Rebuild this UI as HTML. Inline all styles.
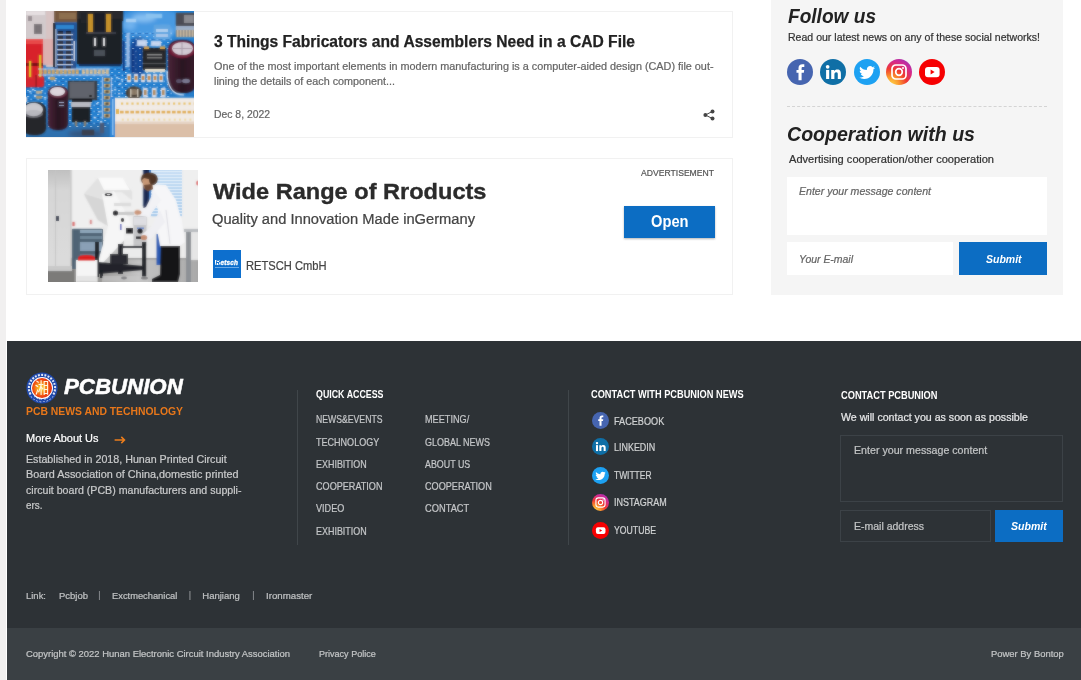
<!DOCTYPE html>
<html lang="en"><head><meta charset="utf-8"><title>PCBUNION - PCB News and Technology</title>
<style>
*{margin:0;padding:0;box-sizing:border-box}
html,body{width:1081px;height:680px;overflow:hidden;background:#fff;font-family:"Liberation Sans",sans-serif}
body{position:relative}
.a{position:absolute}
.t{position:absolute;white-space:nowrap;line-height:1;display:block;transform-origin:0 50%}
#strip{left:0;top:0;width:6px;height:680px;background:#f1f0f0}
.card{background:#fff;border:1px solid #f1f1f1}
#side{left:771px;top:0;width:292px;height:295px;background:#f5f5f5}
.inp{background:#fff}
.btn{background:#0c6dc3}
#foot{left:7px;top:341px;width:1074px;height:287px;background:#2d3236}
#bar{left:7px;top:628px;width:1074px;height:52px;background:#3a4044}
.vl{width:1px;background:#40464a}
.finp{border:1px solid #3c4247;background:#2d3236}

</style></head>
<body>
<div class="a" id="strip"></div>
<!-- article card -->
<div class="a card" style="left:26px;top:11px;width:707px;height:127px"></div>
<svg class="a" id="pcb" style="left:26px;top:11px" width="168" height="126" viewBox="0 0 168 126"><defs><filter id="pb" x="-5%" y="-5%" width="110%" height="110%"><feGaussianBlur stdDeviation="0.8"/></filter><filter id="pb2"><feGaussianBlur stdDeviation="2.2"/></filter><linearGradient id="pbg" x1="0" y1="0" x2="1" y2="1"><stop offset="0" stop-color="#2a6fb8"/><stop offset=".45" stop-color="#2583d4"/><stop offset="1" stop-color="#2a7cc6"/></linearGradient><linearGradient id="capg" x1="0" y1="0" x2="1" y2="0"><stop offset="0" stop-color="#4a2438"/><stop offset=".5" stop-color="#2a1622"/><stop offset="1" stop-color="#3a1c2c"/></linearGradient><pattern id="ptr" width="7" height="6" patternUnits="userSpaceOnUse"><rect x="1" y="1" width="2.2" height="1.1" fill="#d8e8fa" opacity=".5"/><rect x="4.5" y="3.6" width="1.2" height="1.6" fill="#cfe2f8" opacity=".4"/><rect x="0" y="4.4" width="3" height=".7" fill="#1a4f9c" opacity=".55"/></pattern><clipPath id="pcl"><rect width="168" height="126"/></clipPath></defs><g clip-path="url(#pcl)"><rect x="0" y="0" width="168" height="126" fill="url(#pbg)"/><g filter="url(#pb2)"><ellipse cx="125" cy="12" rx="32" ry="16" fill="#489ae2"/><ellipse cx="118" cy="7" rx="12" ry="4" fill="#86c0f2"/><ellipse cx="138" cy="22" rx="9" ry="6" fill="#7ab6ee"/><ellipse cx="104" cy="14" rx="6" ry="5" fill="#6fb2ee"/><ellipse cx="112" cy="46" rx="10" ry="20" fill="#184a98"/><rect x="-4" y="113" width="96" height="18" fill="#2f6fae"/><ellipse cx="60" cy="123" rx="18" ry="4" fill="#33557e"/></g><rect x="0" y="56" width="100" height="60" fill="url(#ptr)"/><rect x="96" y="20" width="50" height="70" fill="url(#ptr)"/><g filter="url(#pb)"><g id="pcg"><rect x="-2" y="-2" width="30" height="32" fill="#d2cacc"/><rect x="0" y="0" width="19" height="4" fill="#e6e0e2"/><rect x="8" y="13" width="8" height="10" fill="#7a7478"/><rect x="2" y="5" width="4" height="5" fill="#9a9094"/><rect x="20" y="0" width="8" height="56" fill="#d8c4c4"/><rect x="28" y="-2" width="24" height="13" fill="#77593f"/><rect x="33" y="2" width="17" height="6" fill="#8e7050"/><rect x="28" y="12" width="22" height="46" fill="#244f8e"/><rect x="30" y="14" width="18" height="4" fill="#2f86d0"/><rect x="32" y="20" width="5" height="3" fill="#1c2030"/><rect x="40" y="20" width="5" height="3" fill="#1c2030"/><rect x="31" y="23" width="16" height="1.2" fill="#c8d4e8"/><rect x="32" y="25" width="5" height="3" fill="#1c2030"/><rect x="40" y="25" width="5" height="3" fill="#1c2030"/><rect x="31" y="28" width="16" height="1.2" fill="#c8d4e8"/><rect x="32" y="30" width="5" height="3" fill="#1c2030"/><rect x="40" y="30" width="5" height="3" fill="#1c2030"/><rect x="31" y="33" width="16" height="1.2" fill="#c8d4e8"/><rect x="32" y="35" width="5" height="3" fill="#1c2030"/><rect x="40" y="35" width="5" height="3" fill="#1c2030"/><rect x="31" y="38" width="16" height="1.2" fill="#c8d4e8"/><rect x="32" y="40" width="5" height="3" fill="#1c2030"/><rect x="40" y="40" width="5" height="3" fill="#1c2030"/><rect x="31" y="43" width="16" height="1.2" fill="#c8d4e8"/><rect x="32" y="45" width="5" height="3" fill="#1c2030"/><rect x="40" y="45" width="5" height="3" fill="#1c2030"/><rect x="31" y="48" width="16" height="1.2" fill="#c8d4e8"/><rect x="32" y="50" width="5" height="3" fill="#1c2030"/><rect x="40" y="50" width="5" height="3" fill="#1c2030"/><rect x="31" y="53" width="16" height="1.2" fill="#c8d4e8"/><rect x="32" y="55" width="5" height="3" fill="#1c2030"/><rect x="40" y="55" width="5" height="3" fill="#1c2030"/><rect x="31" y="58" width="16" height="1.2" fill="#c8d4e8"/><rect x="29" y="18" width="1.5" height="38" fill="#b8c8e0"/><rect x="47.5" y="30" width="1.5" height="20" fill="#d0d8e8"/><rect x="-2" y="28" width="19" height="48" fill="#d8222c"/><rect x="-2" y="28" width="19" height="5" fill="#e84a4a"/><rect x="0" y="52" width="17" height="3" fill="#7a1018"/><rect x="17" y="28" width="11" height="26" fill="#dcb0b0"/><rect x="3" y="50" width="2.2" height="18" fill="#e0c028"/><rect x="13" y="44" width="2.4" height="24" fill="#e0b828"/><rect x="0" y="66" width="18" height="9" fill="#d42830"/><rect x="9.5" y="64" width="1.2" height="12" fill="#8a1820"/><rect x="51" y="-2" width="46" height="12" fill="#2a2a2e"/><rect x="51" y="8" width="45" height="45" fill="#1d2026"/><rect x="27" y="12" width="2.2" height="44" fill="#161a24"/><rect x="55" y="2" width="8" height="10" fill="#22252c"/><rect x="67" y="2" width="12" height="20" fill="#1c1f26"/><rect x="62" y="3" width="5" height="19" fill="#c4902a"/><rect x="80" y="3" width="5" height="19" fill="#c4902a"/><rect x="60" y="21" width="30" height="2" fill="#3a3e48"/><rect x="68" y="27" width="2" height="8" fill="#d8d8dc"/><rect x="77" y="27" width="2" height="8" fill="#d8d8dc"/><rect x="68" y="39" width="11" height="6" fill="#4a5058"/><rect x="53" y="53" width="42" height="2" fill="#15305c"/><rect x="100.5" y="22" width="3" height="34" fill="#9fc0e8"/><rect x="97" y="30" width="1.5" height="30" fill="#123a80"/><rect x="106" y="38" width="1.5" height="24" fill="#123a80"/><rect x="110" y="40" width="1.5" height="22" fill="#1a4890"/><rect x="111" y="29" width="10" height="6" fill="#c6d6f0"/><rect x="125" y="30" width="10" height="5" fill="#c6d6f0"/><rect x="128" y="14" width="16" height="14" fill="#5fa4e0"/><rect x="130" y="18" width="12" height="3" fill="#b0d0f0"/><rect x="130" y="23" width="12" height="3" fill="#a8c8ec"/><rect x="100" y="8" width="10" height="3" fill="#a8d0f4"/><rect x="120" y="3" width="16" height="4" fill="#8cc4f0"/><rect x="150" y="2" width="20" height="13" fill="#4b4c54"/><rect x="158" y="4" width="10" height="8" fill="#8a8a90"/><rect x="150" y="15" width="20" height="4" fill="#9fb0c8"/><rect x="150" y="19" width="20" height="7" fill="#9a948c"/><rect x="151" y="19" width="1.3" height="7" fill="#c8b8a0"/><rect x="154" y="19" width="1.3" height="7" fill="#c8b8a0"/><rect x="157" y="19" width="1.3" height="7" fill="#c8b8a0"/><rect x="160" y="19" width="1.3" height="7" fill="#c8b8a0"/><rect x="163" y="19" width="1.3" height="7" fill="#c8b8a0"/><rect x="166" y="19" width="1.3" height="7" fill="#c8b8a0"/><rect x="117" y="37" width="23" height="22" fill="#26272b"/><rect x="118" y="35.5" width="5" height="2.5" fill="#d0a050"/><rect x="134" y="35.5" width="5" height="2.5" fill="#d0a050"/><rect x="121" y="43" width="15" height="1.5" fill="#8a8a8a"/><rect x="121" y="46" width="15" height="1.5" fill="#7a7a7a"/><rect x="119" y="58" width="20" height="3" fill="#e8e0d0"/><rect x="117" y="52" width="23" height="1" fill="#55565a"/><path d="M142 40 Q142 29 156 29 Q170 29 170 40 L170 72 Q170 82 156 82 Q142 82 142 72Z" fill="url(#capg)"/><ellipse cx="156" cy="38.5" rx="13.5" ry="9" fill="#6e1c38"/><ellipse cx="156.5" cy="37.5" rx="10.5" ry="6.6" fill="#d3cad4"/><rect x="155.5" y="31" width="1" height="13" fill="#a89aa8"/><rect x="147" y="37" width="19" height="1" fill="#a89aa8"/><ellipse cx="153" cy="70" rx="3" ry="2" fill="#5a5068"/><ellipse cx="160" cy="70" rx="4" ry="2.2" fill="#7a7890"/><path d="M141 60 Q141 84 158 84" stroke="#cfe0f4" stroke-width="1.2" fill="none"/><rect x="14" y="58.5" width="2.6" height="4.5" fill="#d8a860"/><rect x="18" y="58.5" width="2.6" height="4.5" fill="#d8a860"/><rect x="22" y="58.5" width="2.6" height="4.5" fill="#d8a860"/><rect x="26" y="58.5" width="2.6" height="4.5" fill="#d8a860"/><rect x="30" y="58.5" width="2.6" height="4.5" fill="#d8a860"/><rect x="34" y="58.5" width="2.6" height="4.5" fill="#d8a860"/><rect x="38" y="58.5" width="2.6" height="4.5" fill="#d8a860"/><rect x="42" y="58.5" width="2.6" height="4.5" fill="#d8a860"/><rect x="46" y="58.5" width="2.6" height="4.5" fill="#d8a860"/><rect x="50" y="58.5" width="2.6" height="4.5" fill="#d8a860"/><rect x="56" y="58.5" width="2.6" height="4.5" fill="#e0c090"/><rect x="60" y="58.5" width="2.6" height="4.5" fill="#e0c090"/><rect x="64" y="58.5" width="2.6" height="4.5" fill="#e0c090"/><rect x="68" y="58.5" width="2.6" height="4.5" fill="#e0c090"/><rect x="72" y="58.5" width="2.6" height="4.5" fill="#e0c090"/><rect x="76" y="58.5" width="2.6" height="4.5" fill="#e0c090"/><rect x="80" y="58.5" width="2.6" height="4.5" fill="#e0c090"/><rect x="12" y="57.5" width="72" height="1" fill="#b8d0f0"/><rect x="12" y="63.5" width="72" height="1" fill="#b8d0f0"/><rect x="101" y="63" width="4" height="8" fill="#d8dce8"/><rect x="101.7" y="65" width="2.6" height="4" fill="#c88840"/><rect x="108" y="63" width="4" height="8" fill="#d8dce8"/><rect x="108.7" y="65" width="2.6" height="4" fill="#c88840"/><rect x="115" y="63" width="4" height="8" fill="#d8dce8"/><rect x="115.7" y="65" width="2.6" height="4" fill="#c88840"/><rect x="121" y="63" width="4" height="8" fill="#d8dce8"/><rect x="121.7" y="65" width="2.6" height="4" fill="#c88840"/><rect x="127" y="63" width="4" height="8" fill="#d8dce8"/><rect x="127.7" y="65" width="2.6" height="4" fill="#c88840"/><rect x="133" y="63" width="4" height="8" fill="#d8dce8"/><rect x="133.7" y="65" width="2.6" height="4" fill="#c88840"/><rect x="117" y="77" width="4.5" height="9" fill="#d8dce8"/><rect x="118" y="79" width="2.5" height="5" fill="#b08858"/><rect x="126" y="77" width="4.5" height="9" fill="#d8dce8"/><rect x="127" y="79" width="2.5" height="5" fill="#b08858"/><rect x="135" y="77" width="4.5" height="9" fill="#d8dce8"/><rect x="136" y="79" width="2.5" height="5" fill="#b08858"/><rect x="78" y="67" width="6" height="3.4" fill="#c8a468"/><rect x="79.5" y="67.6" width="3" height="2.2" fill="#5a4a3a"/><rect x="78" y="73" width="6" height="3.4" fill="#c8a468"/><rect x="79.5" y="73.6" width="3" height="2.2" fill="#5a4a3a"/><rect x="78" y="79" width="6" height="3.4" fill="#c8a468"/><rect x="79.5" y="79.6" width="3" height="2.2" fill="#5a4a3a"/><rect x="78" y="85" width="6" height="3.4" fill="#c8a468"/><rect x="79.5" y="85.6" width="3" height="2.2" fill="#5a4a3a"/><rect x="78" y="91" width="6" height="3.4" fill="#c8a468"/><rect x="79.5" y="91.6" width="3" height="2.2" fill="#5a4a3a"/><rect x="78" y="97" width="6" height="3.4" fill="#c8a468"/><rect x="79.5" y="97.6" width="3" height="2.2" fill="#5a4a3a"/><rect x="78" y="103" width="6" height="3.4" fill="#c8a468"/><rect x="79.5" y="103.6" width="3" height="2.2" fill="#5a4a3a"/><rect x="76" y="66" width="1" height="42" fill="#b0c8ec"/><rect x="85" y="66" width="1" height="24" fill="#b0c8ec"/><rect x="22" y="66" width="2.2" height="1.3" fill="#cfe0f8"/><rect x="28" y="69" width="2.2" height="1.3" fill="#cfe0f8"/><rect x="3" y="80" width="2.2" height="1.3" fill="#cfe0f8"/><rect x="8" y="84" width="2.2" height="1.3" fill="#cfe0f8"/><rect x="14" y="80" width="2.2" height="1.3" fill="#cfe0f8"/><rect x="18" y="86" width="2.2" height="1.3" fill="#cfe0f8"/><rect x="6" y="78" width="2.2" height="1.3" fill="#cfe0f8"/><rect x="70" y="92" width="2.2" height="1.3" fill="#cfe0f8"/><rect x="72" y="100" width="2.2" height="1.3" fill="#cfe0f8"/><rect x="68" y="106" width="2.2" height="1.3" fill="#cfe0f8"/><rect x="74" y="110" width="2.2" height="1.3" fill="#cfe0f8"/><rect x="90" y="66" width="2.2" height="1.3" fill="#cfe0f8"/><rect x="93" y="72" width="2.2" height="1.3" fill="#cfe0f8"/><rect x="88" y="78" width="2.2" height="1.3" fill="#cfe0f8"/><rect x="92" y="82" width="2.2" height="1.3" fill="#cfe0f8"/><rect x="95" y="68" width="2.2" height="1.3" fill="#cfe0f8"/><rect x="24" y="66" width="5" height="3" fill="#c8a060"/><rect x="10" y="80" width="6" height="2.5" fill="#c8b090"/><rect x="10" y="85" width="6" height="2.5" fill="#b09870"/><rect x="42" y="70" width="29" height="19" fill="#3a3d44"/><rect x="43.5" y="71" width="25" height="16" fill="#60646c"/><ellipse cx="64.5" cy="85" rx="1.5" ry="1.1" fill="#1a1c20"/><rect x="46" y="88" width="20" height="3" fill="#15171c"/><rect x="45" y="91" width="20" height="5" fill="#b8bac2"/><rect x="46" y="96" width="18" height="15" fill="#1e2026"/><rect x="49" y="110" width="2" height="5" fill="#8a8070"/><rect x="58" y="110" width="2" height="5" fill="#8a8070"/><path d="M22 82 Q22 75 32 75 Q42 75 42 82 L42 112 Q42 119 32 119 Q22 119 22 112Z" fill="url(#capg)"/><ellipse cx="32" cy="81.5" rx="9.6" ry="6" fill="#5a2238"/><ellipse cx="31.5" cy="80.5" rx="7.6" ry="4.6" fill="#ddd5dc"/><rect x="33" y="91" width="5" height="1" fill="#a8b0d0"/><rect x="33" y="94" width="5" height="1" fill="#98a0c0"/><path d="M-3 100 Q-3 91 8 91 Q20 91 20 100 L20 116 Q20 124 8 124 Q-3 124 -3 116Z" fill="#25262c"/><ellipse cx="7.5" cy="98.5" rx="9.5" ry="6.8" fill="#c9c9ce"/><ellipse cx="7.5" cy="103" rx="9.5" ry="4" fill="#a8a8b0" opacity=".5"/><rect x="-2" y="86" width="3" height="5" fill="#d8d8e0"/><ellipse cx="108" cy="82" rx="8" ry="6.5" fill="#4c4238"/><ellipse cx="108" cy="81" rx="4" ry="3" fill="#8a7a68"/><rect x="104" y="78" width="1.5" height="8" fill="#c8c0b0"/><rect x="111" y="78" width="1.5" height="8" fill="#c8c0b0"/><rect x="74" y="112" width="4" height="10" fill="#4a5a78"/><rect x="56" y="119" width="12" height="5" fill="#3a4050"/><rect x="89" y="87" width="82" height="26" fill="#f1ebe6"/><rect x="89" y="112" width="82" height="16" fill="#dbbfa8"/><rect x="89" y="110.5" width="82" height="2.5" fill="#e6d4c4"/><rect x="84" y="86" width="5" height="42" fill="#2a86d8"/><rect x="86" y="88" width="1.5" height="36" fill="#8cc0f0"/><rect x="95.0" y="91.5" width="2.2" height="2.2" fill="#e8c060"/><rect x="95.8" y="107.6" width="2.0" height="2.0" fill="#efd9a0"/><rect x="100.2" y="91.5" width="2.2" height="2.2" fill="#e8c060"/><rect x="101.0" y="107.6" width="2.0" height="2.0" fill="#efd9a0"/><rect x="105.4" y="91.5" width="2.2" height="2.2" fill="#e8c060"/><rect x="106.2" y="107.6" width="2.0" height="2.0" fill="#efd9a0"/><rect x="110.6" y="91.5" width="2.2" height="2.2" fill="#e8c060"/><rect x="111.4" y="107.6" width="2.0" height="2.0" fill="#efd9a0"/><rect x="115.8" y="91.5" width="2.2" height="2.2" fill="#e8c060"/><rect x="116.6" y="107.6" width="2.0" height="2.0" fill="#efd9a0"/><rect x="121.0" y="91.5" width="2.2" height="2.2" fill="#e8c060"/><rect x="121.8" y="107.6" width="2.0" height="2.0" fill="#efd9a0"/><rect x="126.2" y="91.5" width="2.2" height="2.2" fill="#e8c060"/><rect x="127.0" y="107.6" width="2.0" height="2.0" fill="#efd9a0"/><rect x="131.4" y="91.5" width="2.2" height="2.2" fill="#e8c060"/><rect x="132.2" y="107.6" width="2.0" height="2.0" fill="#efd9a0"/><rect x="136.6" y="91.5" width="2.2" height="2.2" fill="#e8c060"/><rect x="137.4" y="107.6" width="2.0" height="2.0" fill="#efd9a0"/><rect x="141.8" y="91.5" width="2.2" height="2.2" fill="#e8c060"/><rect x="142.6" y="107.6" width="2.0" height="2.0" fill="#efd9a0"/><rect x="147.0" y="91.5" width="2.2" height="2.2" fill="#e8c060"/><rect x="147.8" y="107.6" width="2.0" height="2.0" fill="#efd9a0"/><rect x="152.2" y="91.5" width="2.2" height="2.2" fill="#e8c060"/><rect x="153.0" y="107.6" width="2.0" height="2.0" fill="#efd9a0"/><rect x="157.4" y="91.5" width="2.2" height="2.2" fill="#e8c060"/><rect x="158.2" y="107.6" width="2.0" height="2.0" fill="#efd9a0"/><rect x="162.6" y="91.5" width="2.2" height="2.2" fill="#e8c060"/><rect x="163.4" y="107.6" width="2.0" height="2.0" fill="#efd9a0"/><rect x="167.8" y="91.5" width="2.2" height="2.2" fill="#e8c060"/><rect x="168.6" y="107.6" width="2.0" height="2.0" fill="#efd9a0"/><rect x="94.0" y="99.8" width="3.6" height="2.6" fill="#e0aa48"/><rect x="99.2" y="99.8" width="3.6" height="2.6" fill="#e0aa48"/><rect x="104.4" y="99.8" width="3.6" height="2.6" fill="#e0aa48"/><rect x="109.6" y="99.8" width="3.6" height="2.6" fill="#e0aa48"/><rect x="114.8" y="99.8" width="3.6" height="2.6" fill="#e0aa48"/><rect x="120.0" y="99.8" width="3.6" height="2.6" fill="#e0aa48"/><rect x="125.2" y="99.8" width="3.6" height="2.6" fill="#e0aa48"/><rect x="130.4" y="99.8" width="3.6" height="2.6" fill="#e0aa48"/><rect x="135.6" y="99.8" width="3.6" height="2.6" fill="#e0aa48"/><rect x="140.8" y="99.8" width="3.6" height="2.6" fill="#e0aa48"/><rect x="146.0" y="99.8" width="3.6" height="2.6" fill="#e0aa48"/><rect x="151.2" y="99.8" width="3.6" height="2.6" fill="#e0aa48"/><rect x="156.4" y="99.8" width="3.6" height="2.6" fill="#e0aa48"/><rect x="161.6" y="99.8" width="3.6" height="2.6" fill="#e0aa48"/><rect x="166.8" y="99.8" width="3.6" height="2.6" fill="#e0aa48"/><rect x="90" y="98" width="3" height="5" fill="#e0b040"/></g></g><use href="#pcg" opacity=".45"/></g></svg>
<svg class="a" style="left:703px;top:109px" width="12" height="12" viewBox="0 0 24 24"><g fill="#444"><circle cx="19" cy="4.8" r="4"/><circle cx="19" cy="19.2" r="4"/><circle cx="4.8" cy="12" r="4"/></g><path d="M19 4.8L4.8 12 19 19.2" fill="none" stroke="#444" stroke-width="2"/></svg>
<!-- ad card -->
<div class="a card" style="left:26px;top:158px;width:707px;height:137px"></div>
<svg class="a" id="lab" style="left:48px;top:170px" width="150" height="112" viewBox="0 0 150 112"><defs><filter id="lb" x="-5%" y="-5%" width="110%" height="110%"><feGaussianBlur stdDeviation="0.8"/></filter><linearGradient id="flr" x1="0" y1="0" x2="1" y2="0"><stop offset="0" stop-color="#7e7d7b"/><stop offset=".35" stop-color="#9a9997"/><stop offset=".6" stop-color="#c4c4c4"/><stop offset="1" stop-color="#a9a9a9"/></linearGradient><linearGradient id="bl" x1="0" y1="0" x2="0" y2="1"><stop offset="0" stop-color="#c4ddf4"/><stop offset="1" stop-color="#9fc6ea"/></linearGradient><linearGradient id="lpn" x1="0" y1="0" x2="0" y2="1"><stop offset="0" stop-color="#bebebe"/><stop offset=".22" stop-color="#d6d6d6"/><stop offset="1" stop-color="#dcdcdc"/></linearGradient><clipPath id="lcl"><rect width="150" height="112"/></clipPath></defs><g clip-path="url(#lcl)"><rect x="0" y="0" width="150" height="112" fill="#efefef"/><g filter="url(#lb)"><g id="lbg"><rect x="-2" y="88" width="154" height="26" fill="url(#flr)"/><rect x="-2" y="100" width="28" height="14" fill="#7c7b79"/><rect x="55" y="88" width="95" height="1.5" fill="#9a9a9a"/><rect x="54" y="56" width="96" height="32" fill="#ebebeb"/><rect x="54" y="70" width="60" height="1" fill="#cfcfcf"/><rect x="-2" y="-2" width="25" height="102" fill="url(#lpn)"/><rect x="7" y="0" width="1" height="100" fill="#c6c6c6"/><rect x="22" y="0" width="1.5" height="100" fill="#cacaca"/><rect x="8" y="46" width="3" height="5" fill="#3a4050"/><rect x="-2" y="96" width="26" height="5" fill="#c9c9c9"/><rect x="24.5" y="52" width="2" height="4" fill="#d86a6a"/><rect x="42" y="50" width="1.6" height="4" fill="#d88a8a"/><rect x="95.5" y="-2" width="5.5" height="40" fill="#1b2a52"/><rect x="101" y="-2" width="3" height="42" fill="#3f7cc4"/><rect x="103" y="-2" width="31" height="48" fill="url(#bl)"/><rect x="103" y="1" width="31" height="1.1" fill="#e8f2fb"/><rect x="103" y="4" width="31" height="1.1" fill="#e8f2fb"/><rect x="103" y="7" width="31" height="1.1" fill="#e8f2fb"/><rect x="103" y="10" width="31" height="1.1" fill="#e8f2fb"/><rect x="103" y="13" width="31" height="1.1" fill="#e8f2fb"/><rect x="103" y="16" width="31" height="1.1" fill="#e8f2fb"/><rect x="103" y="19" width="31" height="1.1" fill="#e8f2fb"/><rect x="103" y="22" width="31" height="1.1" fill="#e8f2fb"/><rect x="103" y="25" width="31" height="1.1" fill="#e8f2fb"/><rect x="103" y="28" width="31" height="1.1" fill="#e8f2fb"/><rect x="103" y="31" width="31" height="1.1" fill="#e8f2fb"/><rect x="103" y="34" width="31" height="1.1" fill="#e8f2fb"/><rect x="103" y="37" width="31" height="1.1" fill="#e8f2fb"/><rect x="103" y="40" width="31" height="1.1" fill="#e8f2fb"/><rect x="103" y="43" width="31" height="1.1" fill="#e8f2fb"/><rect x="134" y="-2" width="18" height="60" fill="#efefef"/><ellipse cx="150" cy="13" rx="2" ry="2.5" fill="#e08080"/><rect x="24" y="59" width="31" height="40" fill="#4f6475"/><rect x="32" y="60" width="22" height="3" fill="#8fa7bb"/><rect x="32" y="66" width="22" height="3" fill="#6f8799"/><rect x="32" y="72" width="22" height="9" fill="#8aa0b6"/><rect x="32" y="81" width="22" height="2" fill="#4a5e6e"/><rect x="32" y="84" width="22" height="6" fill="#5f7688"/><path d="M36 24 L50 8 L75 8 L84 22 L84 30 L74 22 L62 22 L58 30 Z" fill="#e2e2e2"/><path d="M50 8 L75 8 L82 20 L56 20 Z" fill="#fafafa"/><path d="M36 24 L50 50 L60 56 L56 30 Z" fill="#d6d6d6"/><path d="M54 24 L66 21 L82 52 L84 84 L52 96 L50 92 L60 56 Z" fill="#f6f6f6"/><path d="M52 96 L84 62 L84 70 L56 98 Z" fill="#c4c4c4"/><ellipse cx="60.5" cy="24.5" rx="3.8" ry="1.6" fill="#1a1a1e"/><ellipse cx="60.5" cy="24.5" rx="1.8" ry="0.7" fill="#e8e8e8"/><ellipse cx="67.5" cy="43" rx="2.6" ry="2.6" fill="#222226"/><ellipse cx="74.5" cy="50" rx="1.6" ry="2" fill="#222226"/><rect x="66" y="33" width="17" height="3" fill="#dcdcdc"/><rect x="70" y="42" width="16" height="3" fill="#c9c9c9"/><rect x="72" y="54" width="1.6" height="6" fill="#6a70c0"/><rect x="76" y="56" width="10" height="14" fill="#f0f0f0"/><rect x="78" y="58" width="7" height="5.5" fill="#1c1c20"/><rect x="76" y="70" width="34" height="18" fill="#ebebeb"/><rect x="85.5" y="46" width="13" height="30" fill="#c6c6c8"/><rect x="86" y="47" width="12" height="8" fill="#dedee2"/><rect x="89" y="57.5" width="7" height="1.6" fill="#6a8ad0"/><ellipse cx="92" cy="61" rx="2.6" ry="2.6" fill="#1c1c20"/><rect x="88" y="66.5" width="5" height="2.4" fill="#1c1c20"/><rect x="47" y="72" width="4" height="35" fill="#1e2026"/><rect x="94" y="72" width="4.2" height="36" fill="#1e2026"/><rect x="70" y="74" width="5" height="30" fill="#25272d"/><path d="M50 92 L96 96 L96 100 L50 104 Z" fill="#22242a"/><rect x="62" y="84" width="18" height="10" fill="#2a2c32"/><rect x="75" y="76" width="20" height="2" fill="#2a2c32"/><ellipse cx="96.5" cy="108" rx="3.5" ry="1.6" fill="#1a1a1e"/><ellipse cx="76" cy="108" rx="3" ry="1.4" fill="#1a1a1e"/><rect x="52" y="100" width="3" height="8" fill="#1e2026"/><rect x="54" y="106" width="46" height="6" fill="#c9c9c9" opacity=".6"/><rect x="28" y="90" width="21.5" height="22" fill="#f5f5f5"/><rect x="29" y="106" width="20" height="6" fill="#e4e4e4"/><path d="M30 88 Q30 85 38.5 85 Q47 85 47 88 L47 90.5 L30 90.5 Z" fill="#dc1f1f"/><rect x="108.5" y="64" width="6" height="31" fill="#2b5ab2"/><rect x="136" y="59" width="16" height="3" fill="#b9bcc0"/><rect x="138" y="62" width="5" height="52" fill="#8d9196"/><rect x="143" y="62" width="9" height="28" fill="#e6e6e6"/><path d="M113 73 L132 73 L132 104 L130 112 L104 112 L104 109 L112 105 Z" fill="#151519"/><path d="M104 14 L118 15 L128 30 L134 52 L137 72 L132 76 L112 76 L109 60 L110 40 L104 24 Z" fill="#f6f6f8"/><path d="M106 21 L113 30 L101 47 L90 45.5 L89 41 L98 37 Z" fill="#f2f2f5"/><path d="M112 40 L117 52 L103 69 L95 70 L94 64.5 L104 56 Z" fill="#efeff3"/><path d="M118 40 L122 74" fill="none" stroke="#dcdce2" stroke-width="1"/><ellipse cx="101.5" cy="9" rx="8.4" ry="6.6" fill="#4f3626"/><path d="M94 10 L96 8 L104 10 L105 19 L100 21 L96 18 Z" fill="#c69674"/><path d="M96 15 L104 14 L105 19 L100 21.5 L96.5 19 Z" fill="#6e4c38"/><ellipse cx="105" cy="10" rx="4" ry="5" fill="#4f3626"/><ellipse cx="90" cy="42.5" rx="3.4" ry="2.2" fill="#c99478"/><ellipse cx="96" cy="67.5" rx="3.2" ry="2.6" fill="#c48c70"/></g></g><use href="#lbg" opacity=".45"/></g></svg>
<div class="a" style="left:213px;top:250px;width:28px;height:28px;background:#0d6fce"></div>
<div class="a" style="left:214.6px;top:259.8px;width:5.2px;height:5px;background:#fff"></div>
<span class="a" style="left:215.6px;top:259.6px;font-size:6.4px;line-height:6.6px;font-weight:700;font-style:italic;color:#fff;letter-spacing:.2px;-webkit-text-stroke:.3px #fff;white-space:nowrap"><span style="color:#0d6fce;-webkit-text-stroke:0">R</span>etsch</span>
<div class="a" style="left:215px;top:266.6px;width:23.5px;height:1px;background:#6aa9e6"></div>
<div class="a btn" style="left:624px;top:206.4px;width:91px;height:32px;box-shadow:0 1px 2px rgba(0,0,0,.3)"></div>
<!-- sidebar -->
<div class="a" id="side"></div>
<div class="a" style="left:787px;top:106px;width:260px;height:0;border-top:1px dashed #d4d4d4"></div>
<div class="a inp" style="left:787px;top:176.5px;width:260px;height:58.5px"></div>
<div class="a inp" style="left:787px;top:242px;width:166px;height:33px"></div>
<div class="a btn" style="left:959px;top:242px;width:88px;height:33px"></div>
<!-- footer -->
<div class="a" id="foot"></div>
<div class="a" id="bar"></div>
<div class="a vl" style="left:297px;top:390px;height:155px"></div>
<div class="a vl" style="left:568px;top:390px;height:155px"></div>
<div class="a finp" style="left:840px;top:435px;width:223px;height:67px"></div>
<div class="a finp" style="left:840px;top:510px;width:151px;height:32px"></div>
<div class="a btn" style="left:995px;top:510px;width:68px;height:32px"></div>
<svg class="a" style="left:787.2px;top:58.9px" width="26" height="26" viewBox="0 0 26 26"><circle cx="13" cy="13" r="13" fill="#4665b0"/><path fill="#fff" d="M11.5 21.2V13.8H9.5V11.1H11.5V9.3C11.5 6.7 12.9 5.2 15.4 5.2C16.2 5.2 16.9 5.3 17.3 5.35V7.9H15.9C14.9 7.9 14.6 8.4 14.6 9.3V11.1H17.2L16.8 13.8H14.6V21.2Z"/></svg>
<svg class="a" style="left:820.4px;top:58.9px" width="26" height="26" viewBox="0 0 26 26"><circle cx="13" cy="13" r="13" fill="#0f6fa6"/><g fill="#fff"><rect x="6.1" y="10.9" width="3.1" height="9.1"/><circle cx="7.65" cy="7.8" r="1.85"/><path d="M11.2 10.9h3v1.3c.5-.9 1.6-1.6 3.1-1.6 2.9 0 3.6 1.9 3.6 4.4V20h-3.1v-4.4c0-1.1 0-2.4-1.5-2.4s-1.9 1.1-1.9 2.3V20h-3.2Z"/></g></svg>
<svg class="a" style="left:853.5px;top:58.9px" width="26" height="26" viewBox="0 0 26 26"><circle cx="13" cy="13" r="13" fill="#1da1f2"/><path fill="#fff" transform="translate(5.1 5.6) scale(.665)" d="M23.954 4.569c-.885.389-1.83.654-2.825.775 1.014-.611 1.794-1.574 2.163-2.723-.951.555-2.005.959-3.127 1.184-.896-.959-2.173-1.559-3.591-1.559-2.717 0-4.92 2.203-4.92 4.917 0 .39.045.765.127 1.124C7.691 8.094 4.066 6.13 1.64 3.161c-.427.722-.666 1.561-.666 2.475 0 1.71.87 3.213 2.188 4.096-.807-.026-1.566-.248-2.228-.616v.061c0 2.385 1.693 4.374 3.946 4.827-.413.111-.849.171-1.296.171-.314 0-.615-.03-.916-.086.631 1.953 2.445 3.377 4.604 3.417-1.68 1.319-3.809 2.105-6.102 2.105-.39 0-.779-.023-1.17-.067 2.189 1.394 4.768 2.209 7.557 2.209 9.054 0 13.999-7.496 13.999-13.986 0-.209 0-.42-.015-.63.961-.689 1.8-1.56 2.46-2.548l-.047-.02z"/></svg>
<svg class="a" style="left:886.1px;top:58.9px" width="26" height="26" viewBox="0 0 26 26"><defs><radialGradient id="iga" cx="0.18" cy="1.0" r="1.25"><stop offset="0" stop-color="#ffd84a"/><stop offset=".25" stop-color="#fb9a2e"/><stop offset=".5" stop-color="#f03a30"/><stop offset=".74" stop-color="#d32a90"/><stop offset="1" stop-color="#8a3ac8"/></radialGradient></defs><circle cx="13" cy="13" r="13" fill="url(#iga)"/><rect x="6" y="6" width="14" height="14" rx="3.8" fill="none" stroke="#fff" stroke-width="1.7"/><circle cx="13" cy="13" r="3.3" fill="none" stroke="#fff" stroke-width="1.7"/><circle cx="17" cy="9" r="1" fill="#fff"/></svg>
<svg class="a" style="left:919.1px;top:58.9px" width="26" height="26" viewBox="0 0 26 26"><circle cx="13" cy="13" r="13" fill="#f60002"/><rect x="6" y="7.9" width="14.6" height="10.3" rx="3" fill="#fff"/><path d="M11.6 10.6L15.6 13L11.6 15.4Z" fill="#f60002"/></svg>
<svg class="a" style="left:591.8px;top:412.4px" width="17" height="17" viewBox="0 0 26 26"><circle cx="13" cy="13" r="13" fill="#4665b0"/><path fill="#fff" d="M11.5 21.2V13.8H9.5V11.1H11.5V9.3C11.5 6.7 12.9 5.2 15.4 5.2C16.2 5.2 16.9 5.3 17.3 5.35V7.9H15.9C14.9 7.9 14.6 8.4 14.6 9.3V11.1H17.2L16.8 13.8H14.6V21.2Z"/></svg>
<svg class="a" style="left:591.8px;top:438.3px" width="17" height="17" viewBox="0 0 26 26"><circle cx="13" cy="13" r="13" fill="#0f6fa6"/><g fill="#fff"><rect x="6.1" y="10.9" width="3.1" height="9.1"/><circle cx="7.65" cy="7.8" r="1.85"/><path d="M11.2 10.9h3v1.3c.5-.9 1.6-1.6 3.1-1.6 2.9 0 3.6 1.9 3.6 4.4V20h-3.1v-4.4c0-1.1 0-2.4-1.5-2.4s-1.9 1.1-1.9 2.3V20h-3.2Z"/></g></svg>
<svg class="a" style="left:591.8px;top:466.5px" width="17" height="17" viewBox="0 0 26 26"><circle cx="13" cy="13" r="13" fill="#1da1f2"/><path fill="#fff" transform="translate(5.1 5.6) scale(.665)" d="M23.954 4.569c-.885.389-1.83.654-2.825.775 1.014-.611 1.794-1.574 2.163-2.723-.951.555-2.005.959-3.127 1.184-.896-.959-2.173-1.559-3.591-1.559-2.717 0-4.92 2.203-4.92 4.917 0 .39.045.765.127 1.124C7.691 8.094 4.066 6.13 1.64 3.161c-.427.722-.666 1.561-.666 2.475 0 1.71.87 3.213 2.188 4.096-.807-.026-1.566-.248-2.228-.616v.061c0 2.385 1.693 4.374 3.946 4.827-.413.111-.849.171-1.296.171-.314 0-.615-.03-.916-.086.631 1.953 2.445 3.377 4.604 3.417-1.68 1.319-3.809 2.105-6.102 2.105-.39 0-.779-.023-1.17-.067 2.189 1.394 4.768 2.209 7.557 2.209 9.054 0 13.999-7.496 13.999-13.986 0-.209 0-.42-.015-.63.961-.689 1.8-1.56 2.46-2.548l-.047-.02z"/></svg>
<svg class="a" style="left:591.8px;top:493.7px" width="17" height="17" viewBox="0 0 26 26"><defs><radialGradient id="igb" cx="0.18" cy="1.0" r="1.25"><stop offset="0" stop-color="#ffd84a"/><stop offset=".25" stop-color="#fb9a2e"/><stop offset=".5" stop-color="#f03a30"/><stop offset=".74" stop-color="#d32a90"/><stop offset="1" stop-color="#8a3ac8"/></radialGradient></defs><circle cx="13" cy="13" r="13" fill="url(#igb)"/><rect x="6" y="6" width="14" height="14" rx="3.8" fill="none" stroke="#fff" stroke-width="1.7"/><circle cx="13" cy="13" r="3.3" fill="none" stroke="#fff" stroke-width="1.7"/><circle cx="17" cy="9" r="1" fill="#fff"/></svg>
<svg class="a" style="left:591.8px;top:521.5px" width="17" height="17" viewBox="0 0 26 26"><circle cx="13" cy="13" r="13" fill="#f60002"/><rect x="6" y="7.9" width="14.6" height="10.3" rx="3" fill="#fff"/><path d="M11.6 10.6L15.6 13L11.6 15.4Z" fill="#f60002"/></svg>
<svg class="a" style="left:26px;top:371.5px" width="32" height="32" viewBox="0 0 32 32">
<defs><radialGradient id="lg" cx=".45" cy=".5" r=".55"><stop offset="0" stop-color="#ffe23a"/><stop offset=".35" stop-color="#f9a01c"/><stop offset=".75" stop-color="#ee4a12"/><stop offset="1" stop-color="#e22a10"/></radialGradient>
<path id="arcb" d="M6.2 22.5A11.9 11.9 0 0 0 25.8 22.5"/></defs>
<circle cx="16" cy="16" r="15.6" fill="#1f48aa"/>
<circle cx="16" cy="16" r="13.1" fill="none" stroke="#dfe6f6" stroke-width="2.1" stroke-dasharray="1.9 1.35" transform="rotate(152 16 16)"/>
<path d="M4.4 23.2A13.6 13.6 0 0 0 27.6 23.2L24.6 21.2A10 10 0 0 1 7.4 21.2Z" fill="#1f48aa"/>
<text font-family="Liberation Sans,sans-serif" font-size="4.3" font-weight="700" fill="#eef2fa" letter-spacing=".3"><textPath href="#arcb" startOffset="50%" text-anchor="middle">HNPCA</textPath></text>
<circle cx="16" cy="16" r="11" fill="#fff"/>
<circle cx="16" cy="16" r="10" fill="url(#lg)"/>
<text x="16" y="21.2" text-anchor="middle" font-family="'Noto Sans CJK SC','WenQuanYi Zen Hei',sans-serif" font-size="14.5" fill="#fff5e0">湘</text>
</svg>
<svg class="a" style="left:114px;top:434.8px" width="13" height="10" viewBox="0 0 13 10"><path d="M0.6 5H10.3M7.3 1.9L10.5 5L7.3 8.1" fill="none" stroke="#ec7d1c" stroke-width="1.5" stroke-linejoin="miter"/></svg>

<div id="texts">
<span class="t" id="t0" style="left:214.20px;top:34.00px;font-size:16.8px;color:#222;font-weight:700;transform:scaleX(0.9302);-webkit-text-stroke:.25px #222;">3 Things Fabricators and Assemblers Need in a CAD File</span>
<span class="t" id="t1" style="left:214.00px;top:61.00px;font-size:10.5px;color:#666;transform:scaleX(1.0312);-webkit-text-stroke:0.22px #666;">One of the most important elements in modern manufacturing is a computer-aided design (CAD) file out-</span>
<span class="t" id="t2" style="left:214.00px;top:76.00px;font-size:10.5px;color:#666;transform:scaleX(1.0268);-webkit-text-stroke:0.22px #666;">lining the details of each component...</span>
<span class="t" id="t3" style="left:214.00px;top:109.00px;font-size:10.5px;color:#666;transform:scaleX(0.9890);-webkit-text-stroke:0.22px #666;">Dec 8, 2022</span>
<span class="t" id="t4" style="left:212.80px;top:181.00px;font-size:22.4px;color:#2b2b2b;font-weight:700;transform:scaleX(1.0527);-webkit-text-stroke:.35px #2b2b2b;">Wide Range of Rroducts</span>
<span class="t" id="t5" style="left:212.20px;top:212.00px;font-size:14px;color:#444;transform:scaleX(1.0495);-webkit-text-stroke:0.22px #444;">Quality and Innovation Made inGermany</span>
<span class="t" id="t6" style="left:246.00px;top:259.00px;font-size:13px;color:#444;transform:scaleX(0.8572);-webkit-text-stroke:0.22px #444;">RETSCH CmbH</span>
<span class="t" id="t7" style="left:641.00px;top:168.00px;font-size:9.5px;color:#555;transform:scaleX(0.9058);-webkit-text-stroke:0.22px #555;">ADVERTISEMENT</span>
<span class="t" id="t8" style="left:650.60px;top:214.00px;font-size:15.7px;color:#fff;font-weight:700;transform:scaleX(0.9353);">Open</span>
<span class="t" id="t9" style="left:788.00px;top:6.00px;font-size:20px;color:#222;font-weight:700;font-style:italic;transform:scaleX(0.9543);">Follow us</span>
<span class="t" id="t10" style="left:787.50px;top:32.00px;font-size:10.5px;color:#333;transform:scaleX(1.0040);-webkit-text-stroke:0.22px #333;">Read our latest news on any of these social networks!</span>
<span class="t" id="t11" style="left:787.00px;top:125.00px;font-size:19.6px;color:#222;font-weight:700;font-style:italic;transform:scaleX(0.9983);">Cooperation with us</span>
<span class="t" id="t12" style="left:789.30px;top:154.00px;font-size:10.5px;color:#333;transform:scaleX(1.0547);-webkit-text-stroke:0.22px #333;">Advertising cooperation/other cooperation</span>
<span class="t" id="t13" style="left:798.60px;top:186.00px;font-size:10.5px;color:#666;font-style:italic;transform:scaleX(1.0051);-webkit-text-stroke:0.22px #666;">Enter your message content</span>
<span class="t" id="t14" style="left:798.60px;top:254.00px;font-size:10.5px;color:#666;font-style:italic;transform:scaleX(0.9948);-webkit-text-stroke:0.22px #666;">Your E-mail</span>
<span class="t" id="t15" style="left:985.80px;top:254.00px;font-size:11px;color:#fff;font-weight:700;font-style:italic;transform:scaleX(0.9549);">Submit</span>
<span class="t" id="t16" style="left:64.20px;top:376.00px;font-size:21.8px;color:#fff;font-weight:700;font-style:italic;transform:scaleX(1.0214);-webkit-text-stroke:.55px #fff;">PCBUNION</span>
<span class="t" id="t17" style="left:25.50px;top:406.00px;font-size:11px;color:#e8771a;font-weight:700;transform:scaleX(0.9433);">PCB NEWS AND TECHNOLOGY</span>
<span class="t" id="t18" style="left:25.50px;top:433.00px;font-size:10.5px;color:#fff;transform:scaleX(1.0439);-webkit-text-stroke:0.22px #fff;">More About Us</span>
<span class="t" id="t19" style="left:25.50px;top:454.00px;font-size:10.5px;color:#c9cacb;transform:scaleX(1.0173);-webkit-text-stroke:0.22px #c9cacb;">Established in 2018, Hunan Printed Circuit</span>
<span class="t" id="t20" style="left:25.50px;top:469.00px;font-size:10.5px;color:#c9cacb;transform:scaleX(1.0313);-webkit-text-stroke:0.22px #c9cacb;">Board Association of China,domestic printed</span>
<span class="t" id="t21" style="left:25.50px;top:485.00px;font-size:10.5px;color:#c9cacb;transform:scaleX(1.0117);-webkit-text-stroke:0.22px #c9cacb;">circuit board (PCB) manufacturers and suppli-</span>
<span class="t" id="t22" style="left:25.50px;top:500.00px;font-size:10.5px;color:#c9cacb;transform:scaleX(0.9420);-webkit-text-stroke:0.22px #c9cacb;">ers.</span>
<span class="t" id="t23" style="left:315.50px;top:390.00px;font-size:10.2px;color:#fff;font-weight:700;transform:scaleX(0.8683);">QUICK ACCESS</span>
<span class="t" id="t24" style="left:315.50px;top:415.00px;font-size:10.3px;color:#c4c6c8;transform:scaleX(0.8421);-webkit-text-stroke:0.22px #c4c6c8;">NEWS&amp;EVENTS</span>
<span class="t" id="t25" style="left:315.50px;top:438.00px;font-size:10.3px;color:#c4c6c8;transform:scaleX(0.8773);-webkit-text-stroke:0.22px #c4c6c8;">TECHNOLOGY</span>
<span class="t" id="t26" style="left:315.50px;top:460.00px;font-size:10.3px;color:#c4c6c8;transform:scaleX(0.8696);-webkit-text-stroke:0.22px #c4c6c8;">EXHIBITION</span>
<span class="t" id="t27" style="left:315.50px;top:482.00px;font-size:10.3px;color:#c4c6c8;transform:scaleX(0.8828);-webkit-text-stroke:0.22px #c4c6c8;">COOPERATION</span>
<span class="t" id="t28" style="left:315.50px;top:504.00px;font-size:10.3px;color:#c4c6c8;transform:scaleX(0.8815);-webkit-text-stroke:0.22px #c4c6c8;">VIDEO</span>
<span class="t" id="t29" style="left:315.50px;top:527.00px;font-size:10.3px;color:#c4c6c8;transform:scaleX(0.8696);-webkit-text-stroke:0.22px #c4c6c8;">EXHIBITION</span>
<span class="t" id="t30" style="left:425.00px;top:415.00px;font-size:10.3px;color:#c4c6c8;transform:scaleX(0.8889);-webkit-text-stroke:0.22px #c4c6c8;">MEETING/</span>
<span class="t" id="t31" style="left:425.00px;top:438.00px;font-size:10.3px;color:#c4c6c8;transform:scaleX(0.8716);-webkit-text-stroke:0.22px #c4c6c8;">GLOBAL NEWS</span>
<span class="t" id="t32" style="left:425.00px;top:460.00px;font-size:10.3px;color:#c4c6c8;transform:scaleX(0.8627);-webkit-text-stroke:0.22px #c4c6c8;">ABOUT US</span>
<span class="t" id="t33" style="left:425.00px;top:482.00px;font-size:10.3px;color:#c4c6c8;transform:scaleX(0.8861);-webkit-text-stroke:0.22px #c4c6c8;">COOPERATION</span>
<span class="t" id="t34" style="left:425.00px;top:504.00px;font-size:10.3px;color:#c4c6c8;transform:scaleX(0.9028);-webkit-text-stroke:0.22px #c4c6c8;">CONTACT</span>
<span class="t" id="t35" style="left:590.50px;top:390.00px;font-size:10.2px;color:#fff;font-weight:700;transform:scaleX(0.9067);">CONTACT WITH PCBUNION NEWS</span>
<span class="t" id="t36" style="left:614.25px;top:417.00px;font-size:10.4px;color:#d0d2d3;transform:scaleX(0.8789);-webkit-text-stroke:0.22px #d0d2d3;">FACEBOOK</span>
<span class="t" id="t37" style="left:614.25px;top:443.00px;font-size:10.4px;color:#d0d2d3;transform:scaleX(0.8605);-webkit-text-stroke:0.22px #d0d2d3;">LINKEDIN</span>
<span class="t" id="t38" style="left:614.25px;top:471.00px;font-size:10.4px;color:#d0d2d3;transform:scaleX(0.8122);-webkit-text-stroke:0.22px #d0d2d3;">TWITTER</span>
<span class="t" id="t39" style="left:614.25px;top:498.00px;font-size:10.4px;color:#d0d2d3;transform:scaleX(0.8648);-webkit-text-stroke:0.22px #d0d2d3;">INSTAGRAM</span>
<span class="t" id="t40" style="left:614.25px;top:526.00px;font-size:10.4px;color:#d0d2d3;transform:scaleX(0.8361);-webkit-text-stroke:0.22px #d0d2d3;">YOUTUBE</span>
<span class="t" id="t41" style="left:840.50px;top:391.00px;font-size:10.2px;color:#fff;font-weight:700;transform:scaleX(0.9085);">CONTACT PCBUNION</span>
<span class="t" id="t42" style="left:840.50px;top:412.00px;font-size:10.5px;color:#e6e7e8;transform:scaleX(1.0118);-webkit-text-stroke:0.22px #e6e7e8;">We will contact you as soon as possible</span>
<span class="t" id="t43" style="left:853.75px;top:445.00px;font-size:10.5px;color:#c2c4c5;transform:scaleX(1.0146);-webkit-text-stroke:0.22px #c2c4c5;">Enter your message content</span>
<span class="t" id="t44" style="left:853.75px;top:521.00px;font-size:10.5px;color:#c2c4c5;transform:scaleX(0.9996);-webkit-text-stroke:0.22px #c2c4c5;">E-mail address</span>
<span class="t" id="t45" style="left:1011.25px;top:521.00px;font-size:11.5px;color:#fff;font-weight:700;font-style:italic;transform:scaleX(0.9170);">Submit</span>
<span class="t" id="t46" style="left:25.50px;top:591.00px;font-size:9.5px;color:#bfc1c2;transform:scaleX(0.9961);-webkit-text-stroke:0.22px #bfc1c2;">Link:</span>
<span class="t" id="t47" style="left:59.40px;top:591.00px;font-size:9.5px;color:#bfc1c2;transform:scaleX(0.9978);-webkit-text-stroke:0.22px #bfc1c2;">Pcbjob</span>
<span class="t" id="t48" style="left:98.20px;top:591.00px;font-size:9px;color:#8b8f92;-webkit-text-stroke:0.22px #8b8f92;">|</span>
<span class="t" id="t49" style="left:111.70px;top:591.00px;font-size:9.5px;color:#bfc1c2;transform:scaleX(0.9815);-webkit-text-stroke:0.22px #bfc1c2;">Exctmechanical</span>
<span class="t" id="t50" style="left:188.80px;top:591.00px;font-size:9px;color:#8b8f92;-webkit-text-stroke:0.22px #8b8f92;">|</span>
<span class="t" id="t51" style="left:202.30px;top:591.00px;font-size:9.5px;color:#bfc1c2;-webkit-text-stroke:0.22px #bfc1c2;">Hanjiang</span>
<span class="t" id="t52" style="left:252.30px;top:591.00px;font-size:9px;color:#8b8f92;-webkit-text-stroke:0.22px #8b8f92;">|</span>
<span class="t" id="t53" style="left:266.00px;top:591.00px;font-size:9.5px;color:#bfc1c2;transform:scaleX(1.0197);-webkit-text-stroke:0.22px #bfc1c2;">Ironmaster</span>
<span class="t" id="t54" style="left:25.50px;top:649.00px;font-size:9.5px;color:#c3c5c6;transform:scaleX(0.9934);-webkit-text-stroke:0.22px #c3c5c6;">Copyright © 2022 Hunan Electronic Circuit Industry Association</span>
<span class="t" id="t55" style="left:319.00px;top:649.00px;font-size:9.5px;color:#c3c5c6;transform:scaleX(0.9519);-webkit-text-stroke:0.22px #c3c5c6;">Privacy Police</span>
<span class="t" id="t56" style="left:990.50px;top:649.00px;font-size:9.5px;color:#c3c5c6;transform:scaleX(0.9917);-webkit-text-stroke:0.22px #c3c5c6;">Power By Bontop</span>
</div>
</body></html>
